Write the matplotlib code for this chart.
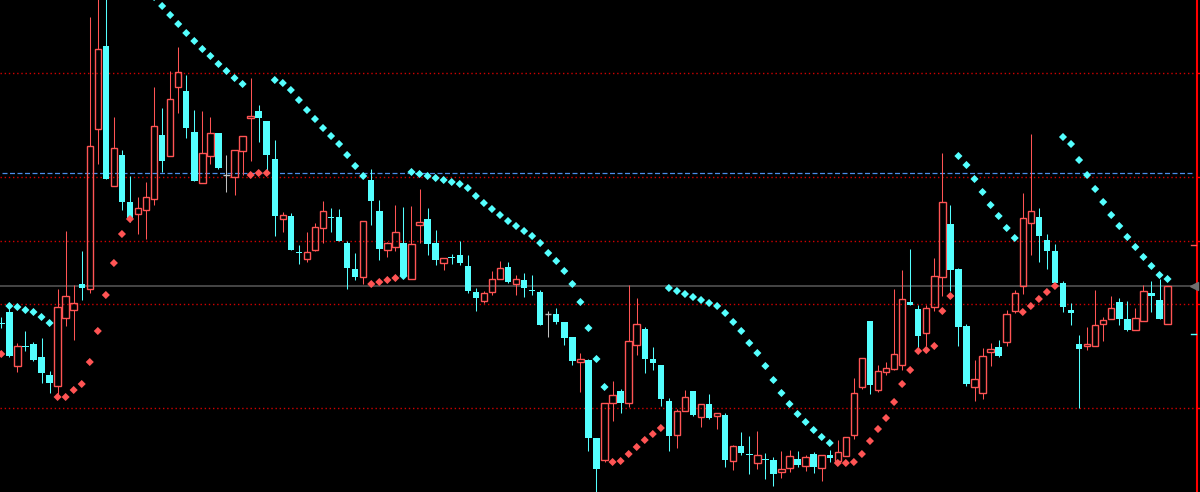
import matplotlib
matplotlib.use('Agg')
import matplotlib.pyplot as plt
import matplotlib.transforms as mtransforms

# OHLC + parabolic SAR, one value per bar
opens = [9.69, 9.80, 9.26, 9.46, 9.48, 9.35, 9.17, 9.06, 9.74, 9.82,
         10.08, 10.03, 11.63, 12.46, 11.06, 11.37, 10.90, 10.78, 10.82, 10.93,
         11.57, 11.36, 12.05, 12.01, 11.60, 11.09, 11.36, 11.59, 11.17, 11.15,
         11.41, 11.74, 11.81, 11.71, 11.33, 10.73, 10.76, 10.40, 10.33, 10.42,
         10.64, 10.75, 10.75, 10.49, 10.23, 10.15, 11.12, 10.81, 10.42, 10.45,
         10.49, 10.13, 10.67, 10.73, 10.49, 10.29, 10.35, 10.37, 10.26, 10.00,
         9.91, 10.00, 10.13, 10.25, 10.08, 10.12, 10.02, 10.00, 9.78, 9.78,
         9.70, 9.55, 9.30, 9.32, 8.54, 8.32, 8.89, 9.01, 8.89, 9.47,
         9.63, 9.33, 9.27, 8.91, 8.57, 8.81, 9.01, 8.75, 8.88, 8.76,
         8.77, 8.31, 8.46, 8.38, 8.29, 8.33, 8.32, 8.20, 8.24, 8.33,
         8.26, 8.38, 8.24, 8.37, 8.31, 8.36, 8.57, 9.05, 9.71, 9.02,
         9.20, 9.23, 9.27, 9.90, 9.83, 9.59, 9.85, 10.15, 10.68, 10.23,
         9.66, 9.05, 8.99, 9.40, 9.45, 9.50, 9.81, 10.06, 10.69, 10.75,
         10.52, 10.41, 10.09, 9.82, 9.48, 9.46, 9.46, 9.68, 9.73, 9.90,
         9.73, 9.62, 9.71, 9.99, 9.92, 9.68]
highs = [9.75, 9.84, 9.49, 9.61, 9.50, 9.54, 9.21, 10.03, 10.61, 10.07,
         10.41, 12.75, 13.13, 12.97, 11.75, 11.42, 11.16, 10.95, 11.10, 12.05,
         11.84, 12.21, 12.45, 12.17, 11.82, 11.81, 11.75, 11.59, 11.37, 11.42,
         11.56, 12.14, 11.87, 11.71, 11.52, 10.80, 10.79, 10.47, 10.60, 10.69,
         10.91, 10.84, 10.83, 10.51, 10.39, 10.71, 11.23, 10.92, 10.50, 10.87,
         10.85, 10.86, 11.03, 10.84, 10.62, 10.34, 10.38, 10.51, 10.37, 10.04,
         10.01, 10.21, 10.31, 10.30, 10.17, 10.19, 10.17, 10.02, 9.81, 9.84,
         9.70, 9.55, 9.39, 9.33, 8.54, 8.89, 9.11, 9.03, 10.07, 9.94,
         9.65, 9.45, 9.27, 8.94, 8.83, 9.02, 9.01, 8.88, 8.98, 8.79,
         8.79, 8.47, 8.60, 8.56, 8.61, 8.39, 8.35, 8.41, 8.42, 8.41,
         8.37, 8.40, 8.37, 8.42, 8.52, 8.55, 9.14, 9.34, 9.71, 9.27,
         9.30, 10.03, 10.22, 10.43, 9.87, 9.87, 10.34, 11.39, 10.87, 10.24,
         9.68, 9.32, 9.44, 9.49, 9.52, 9.82, 10.02, 10.99, 11.58, 10.84,
         10.58, 10.48, 10.11, 9.89, 9.57, 9.65, 10.02, 9.75, 9.96, 9.94,
         9.91, 9.84, 10.07, 10.11, 10.13, 10.06]
lows = [9.64, 9.35, 9.20, 9.41, 9.31, 9.09, 8.99, 8.97, 9.66, 9.52,
        9.92, 9.99, 11.28, 11.13, 11.06, 10.82, 10.70, 10.58, 10.53, 10.87,
        11.20, 11.36, 11.79, 11.54, 11.11, 11.09, 11.28, 11.23, 11.00, 10.97,
        11.17, 11.31, 11.50, 11.20, 10.56, 10.60, 10.42, 10.28, 10.30, 10.41,
        10.49, 10.60, 10.51, 10.03, 10.12, 10.08, 10.67, 10.32, 10.35, 10.41,
        10.16, 10.13, 10.49, 10.37, 10.27, 10.22, 10.28, 10.27, 9.99, 9.81,
        9.89, 9.97, 10.13, 10.09, 9.97, 9.95, 9.97, 9.67, 9.55, 9.68,
        9.47, 9.27, 9.00, 8.41, 7.97, 8.30, 8.71, 8.79, 8.85, 9.37,
        9.19, 9.22, 8.86, 8.41, 8.44, 8.81, 8.76, 8.65, 8.73, 8.63,
        8.25, 8.22, 8.37, 8.18, 8.23, 8.13, 8.06, 8.14, 8.20, 8.25,
        8.21, 8.19, 8.11, 8.30, 8.31, 8.36, 8.53, 9.03, 8.98, 9.00,
        9.17, 9.22, 9.22, 9.87, 9.43, 9.46, 9.81, 9.96, 10.01, 9.46,
        9.06, 8.91, 8.93, 9.26, 9.35, 9.46, 9.79, 9.98, 10.37, 10.30,
        10.23, 10.09, 9.80, 9.67, 8.84, 9.42, 9.46, 9.51, 9.73, 9.67,
        9.61, 9.62, 9.71, 9.80, 9.73, 9.68]
closes = [9.68, 9.36, 9.46, 9.45, 9.32, 9.19, 9.09, 9.85, 9.96, 9.89,
          10.04, 11.46, 12.43, 11.13, 11.44, 10.90, 10.74, 10.84, 10.95, 11.66,
          11.31, 11.93, 12.20, 11.64, 11.11, 11.39, 11.59, 11.24, 11.17, 11.42,
          11.56, 11.76, 11.74, 11.37, 10.76, 10.77, 10.42, 10.39, 10.40, 10.65,
          10.81, 10.74, 10.51, 10.24, 10.15, 10.71, 10.91, 10.43, 10.49, 10.60,
          10.16, 10.48, 10.70, 10.48, 10.32, 10.34, 10.34, 10.29, 10.01, 9.94,
          9.99, 10.13, 10.24, 10.10, 10.13, 10.04, 10.01, 9.67, 9.78, 9.70,
          9.54, 9.31, 9.33, 8.54, 8.23, 8.89, 8.97, 8.89, 9.51, 9.68,
          9.33, 9.29, 8.93, 8.56, 8.81, 8.95, 8.77, 8.88, 8.74, 8.79,
          8.32, 8.46, 8.39, 8.37, 8.37, 8.32, 8.18, 8.23, 8.36, 8.27,
          8.35, 8.25, 8.37, 8.34, 8.40, 8.55, 8.99, 9.34, 9.07, 9.21,
          9.24, 9.38, 9.93, 9.87, 9.56, 9.84, 10.16, 10.90, 10.22, 9.65,
          9.08, 9.13, 9.36, 9.43, 9.36, 9.78, 9.99, 10.74, 10.81, 10.56,
          10.41, 10.09, 9.85, 9.79, 9.43, 9.48, 9.67, 9.72, 9.84, 9.73,
          9.62, 9.74, 10.01, 9.96, 9.73, 10.06]
sar = [9.38, 9.86, 9.85, 9.82, 9.80, 9.75, 9.69, 8.95, 8.95, 9.02,
       9.08, 9.30, 9.61, 9.97, 10.29, 10.58, 10.73, 13.13, 13.04, 12.95,
       12.86, 12.77, 12.68, 12.59, 12.51, 12.43, 12.36, 12.28, 12.21, 12.14,
       12.08, 11.17, 11.19, 11.19, 12.12, 12.09, 12.02, 11.92, 11.82, 11.73,
       11.64, 11.56, 11.48, 11.37, 11.26, 11.16, 10.08, 10.10, 10.12, 10.14,
       10.16, 11.20, 11.18, 11.16, 11.14, 11.12, 11.10, 11.08, 11.04, 10.96,
       10.89, 10.83, 10.77, 10.71, 10.66, 10.61, 10.56, 10.49, 10.39, 10.31,
       10.21, 10.08, 9.90, 9.64, 9.33, 9.05, 8.30, 8.31, 8.38, 8.45,
       8.52, 8.58, 8.64, 10.04, 10.01, 9.98, 9.95, 9.92, 9.89, 9.86,
       9.79, 9.70, 9.61, 9.49, 9.39, 9.26, 9.12, 8.99, 8.88, 8.78,
       8.70, 8.62, 8.55, 8.49, 8.29, 8.29, 8.30, 8.38, 8.51, 8.63,
       8.74, 8.90, 9.08, 9.22, 9.41, 9.42, 9.46, 9.81, 9.96, 11.36,
       11.27, 11.13, 11.00, 10.87, 10.76, 10.64, 10.54, 9.80, 9.86, 9.93,
       10.00, 10.06, 11.55, 11.48, 11.32, 11.17, 11.03, 10.90, 10.77, 10.66,
       10.55, 10.45, 10.35, 10.26, 10.17, 10.13]

# horizontal levels
dotted_levels = [12.19, 11.15, 10.51, 9.88, 8.84]
dashed_level = 11.19
ask_mark = 10.47
bid_mark = 9.58

UP = '#FF5454'
DOWN = '#54FFFF'
FLAT = '#C0C0C0'

fig = plt.figure(figsize=(12, 4.92), dpi=100, facecolor='black')
ax = fig.add_axes([0, 0, 1196.5 / 1200, 1])
ax.set_facecolor('black')

for lv in dotted_levels:
    ax.axhline(lv, color='#D00000', lw=1.0, ls=(0, (1, 2)), zorder=1)
ax.axhline(dashed_level, xmin=0.002, xmax=0.997, color='#4A8CE8', lw=0.9, ls=(0, (4, 2)), zorder=1)
ax.axhline(closes[-1], color='#585858', lw=1.1, zorder=1)

w = 0.8
for i, (o, h, l, c) in enumerate(zip(opens, highs, lows, closes)):
    top, bot = max(o, c), min(o, c)
    if c > o:
        ax.vlines(i, top, h, color=UP, lw=0.75, zorder=2)
        ax.vlines(i, l, bot, color=UP, lw=0.75, zorder=2)
        ax.bar(i, top - bot, w, bot, facecolor='none', edgecolor=UP, lw=1.0, zorder=3)
    elif c < o:
        ax.vlines(i, l, h, color=DOWN, lw=0.75, zorder=2)
        ax.bar(i, max(top - bot, 0.012), w, bot, color=DOWN, lw=0, zorder=3)
    else:
        ax.vlines(i, l, h, color=FLAT, lw=0.75, zorder=2)
        ax.hlines(o, i - w / 2, i + w / 2, color=FLAT, lw=1.0, zorder=3)

sar_colors = [UP if s < c else DOWN for s, c in zip(sar, closes)]
ax.scatter(range(len(sar)), sar, c=sar_colors, marker='D', s=17, lw=0, zorder=4)

# right price scale
ax.set_xlim(-0.16, 148.6)
ax.set_ylim(8.00, 12.92)
for side in ['left', 'top', 'bottom']:
    ax.spines[side].set_visible(False)
ax.spines['right'].set_color('#FF0000')
ax.spines['right'].set_linewidth(1.5)
ax.set_xticks([])
ax.yaxis.tick_right()
ax.set_yticks(dotted_levels)
ax.tick_params(axis='y', colors='#FF0000', length=3, width=1, labelright=False)

trans = mtransforms.blended_transform_factory(ax.transAxes, ax.transData)
ax.plot([0.9955, 0.9995], [ask_mark, ask_mark], color=UP, lw=1, transform=trans, clip_on=False, zorder=5)
ax.plot([0.9955, 0.9995], [bid_mark, bid_mark], color=DOWN, lw=1, transform=trans, clip_on=False, zorder=5)
ax.plot([0.9978], [closes[-1]], marker='<', color='#707070', ms=6, transform=trans, clip_on=False, zorder=5)

fig.savefig('out.png', dpi=100, facecolor='black')
